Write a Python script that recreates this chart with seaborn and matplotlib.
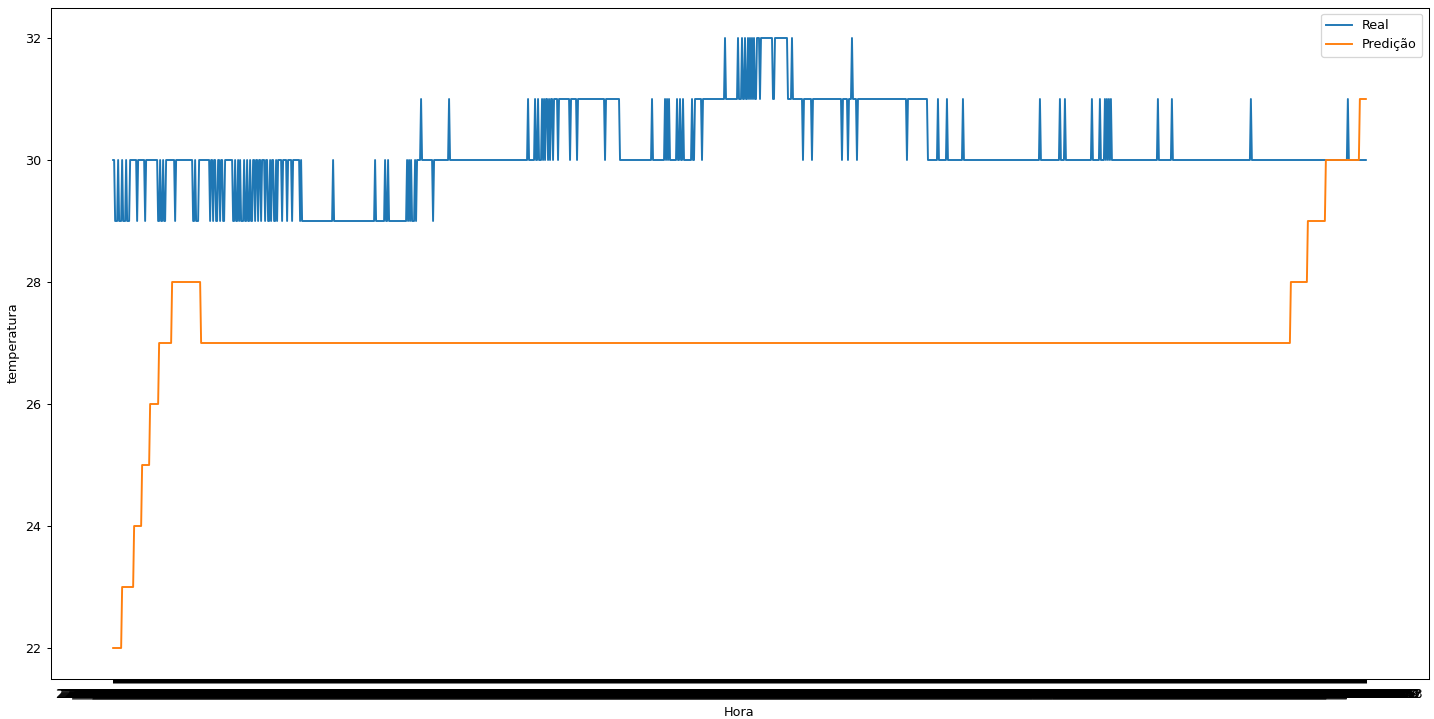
import numpy as np
import pandas as pd
import matplotlib
matplotlib.use('Agg')
import matplotlib.pyplot as plt
import seaborn as sns

# Runs: (temperature, number of consecutive readings)
real_runs = [
    (30, 2), (29, 3), (30, 1), (29, 3), (30, 1), (29, 3), (30, 1), (29, 3),
    (30, 7), (29, 1), (30, 7), (29, 1), (30, 12), (29, 2), (30, 1), (29, 2), (30, 1), (29, 2),
    (30, 9), (29, 1), (30, 17), (29, 2), (30, 1), (29, 3), (30, 11), (29, 1), (30, 2), (29, 1),
    (30, 2), (29, 2), (30, 2), (29, 1), (30, 2), (29, 2), (30, 8), (29, 2), (30, 1), (29, 2),
    (30, 1), (29, 1), (30, 1), (29, 3), (30, 1), (29, 2), (30, 1), (29, 2), (30, 1), (29, 2),
    (30, 2), (29, 1), (30, 2), (29, 1), (30, 2), (29, 1), (30, 3), (29, 1), (30, 2), (29, 2),
    (30, 1), (29, 1), (30, 2), (29, 2), (30, 1), (29, 1), (30, 4), (29, 1), (30, 4), (29, 1),
    (30, 4), (29, 1), (30, 7), (29, 1), (30, 1), (29, 31), (30, 1), (29, 41), (30, 1), (29, 9),
    (30, 1), (29, 2), (30, 1), (29, 18), (30, 1), (29, 1), (30, 1), (29, 1), (30, 1), (29, 3),
    (30, 1), (29, 1), (30, 4), (31, 1), (30, 11), (29, 1), (30, 15), (31, 1), (30, 78),
    (31, 1), (30, 6), (31, 1), (30, 2), (31, 1), (30, 3), (31, 1), (30, 1), (31, 1), (30, 1),
    (31, 2), (30, 1), (31, 1), (30, 1), (31, 2), (30, 1), (31, 4), (30, 1), (31, 11), (30, 1),
    (31, 6), (30, 1), (31, 27), (30, 1), (31, 14), (30, 32), (31, 1), (30, 12), (31, 1),
    (30, 1), (31, 1), (30, 1), (31, 1), (30, 7), (31, 1), (30, 2), (31, 1), (30, 2), (31, 1),
    (30, 8), (31, 1), (30, 2), (31, 7), (30, 1), (31, 22), (32, 1), (31, 12), (32, 1), (31, 3),
    (32, 1), (31, 2), (32, 1), (31, 2), (32, 1), (31, 1), (32, 1), (31, 1), (32, 1), (31, 1),
    (32, 1), (31, 2), (32, 3), (31, 1), (32, 12), (31, 2), (32, 13), (31, 4), (32, 1),
    (31, 10), (30, 1), (31, 8), (30, 1), (31, 29), (30, 1), (31, 5), (30, 1), (31, 3), (32, 1),
    (31, 4), (30, 1), (31, 49), (30, 1), (31, 20), (30, 10), (31, 1), (30, 8), (31, 1),
    (30, 15), (31, 1), (30, 76), (31, 1), (30, 19), (31, 1), (30, 4), (31, 1), (30, 26),
    (31, 1), (30, 7), (31, 1), (30, 4), (31, 1), (30, 1), (31, 1), (30, 1), (31, 1), (30, 1),
    (31, 1), (30, 46), (31, 1), (30, 13), (31, 1), (30, 78), (31, 1), (30, 96), (31, 1), (30, 18),
]

pred_runs = [
    (22, 9), (23, 12), (24, 8), (25, 8), (26, 9), (27, 13), (28, 29), (27, 1090),
    (28, 17), (29, 18), (30, 34), (31, 7),
]

real = np.concatenate([np.full(n, v) for v, n in real_runs])
pred = np.concatenate([np.full(n, v) for v, n in pred_runs])

# reading timestamps (x categories)
horas = pd.date_range('2021-06-22 08:00', periods=len(real), freq='min').strftime('%d/%m/%Y %H:%M').tolist()

df = pd.DataFrame({'Hora': horas, 'Real': real, 'Predição': pred[:len(real)]})

DPI = 92
fig, ax = plt.subplots(figsize=(1434 / DPI, 719 / DPI), dpi=DPI)
fig.subplots_adjust(left=50.5 / 1434, right=1428.5 / 1434, top=1 - 7.5 / 719, bottom=1 - 678.5 / 719)

sns.lineplot(data=df, x='Hora', y='Real', label='Real', ax=ax, sort=False)
sns.lineplot(data=df, x='Hora', y='Predição', label='Predição', ax=ax, sort=False)

ax.set_xlabel('Hora')
ax.set_ylabel('temperatura')
ax.legend(loc='upper right')

plt.savefig('out.png', dpi=DPI)
